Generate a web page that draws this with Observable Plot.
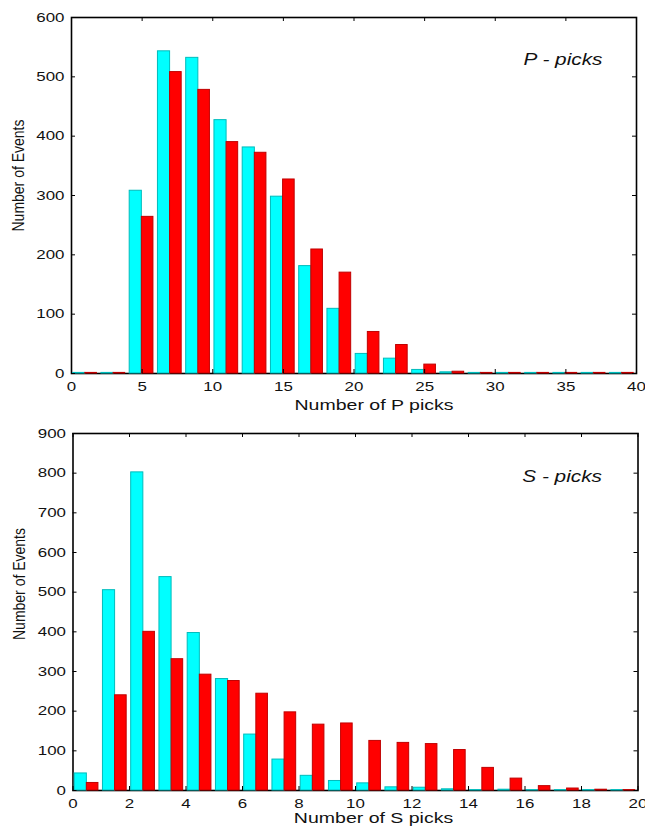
<!DOCTYPE html>
<html>
<head>
<meta charset="utf-8">
<script src="https://cdn.jsdelivr.net/npm/d3@7"></script>
<script src="https://cdn.jsdelivr.net/npm/@observablehq/plot@0.6"></script>
<style>
  html, body { margin: 0; padding: 0; background: #fff; }
  #chartTop, #chartBottom { width: 645px; display: block; }
  svg { display: block; }
</style>
</head>
<body>
<div id="chartTop"></div>
<div id="chartBottom"></div>
<script>
// ---- Data: P picks histogram (bins of width 2) ----
const pBinStart = [0,2,4,6,8,10,12,14,16,18,20,22,24,26,28,30,32,34,36,38];
const pBinWidth = 2;
const pCyan = [1,1,308,543,532,427,381,298,181,109,33,25,6,2,1,1,1,1,1,1];
const pRed  = [1,1,264,508,478,390,372,327,209,170,70,48,15,3,1,1,1,1,1,1];
const pXTicks = [0,5,10,15,20,25,30,35,40];
const pYTicks = [0,100,200,300,400,500,600];
const pXLabel = "Number of P picks";
const pTitle = "P - picks";

// ---- Data: S picks histogram (bins of width 1) ----
const sBinStart = [0,1,2,3,4,5,6,7,8,9,10,11,12,13,14,15,16,17,18,19];
const sBinWidth = 1;
const sCyan = [43,505,802,538,397,281,141,78,37,24,18,8,7,3,1,2,1,1,1,1];
const sRed  = [19,240,400,331,292,276,244,197,166,169,125,120,117,102,57,30,11,5,2,1];
const sXTicks = [0,2,4,6,8,10,12,14,16,18,20];
const sYTicks = [0,100,200,300,400,500,600,700,800,900];
const sXLabel = "Number of S picks";
const sTitle = "S - picks";

const yLabel = "Number of Events";

const FONT = "'Liberation Sans', Arial, sans-serif";
const CYAN = "#00ffff", CYAN_EDGE = "#00bcbc";
const RED = "#ff0000", RED_EDGE = "#c00000";

function histChart(opt) {
  const {starts, bw, cyan, red, xTicks, yTicks, xDomain, yDomain, xLabel, title,
         height, mt, mb, ml, mr, labelDx, labelDy, titleDx, titleDy, yLabelDy} = opt;
  const rows = starts.map((s, i) => ({start: s, cyan: cyan[i], red: red[i]}));
  const pw = 645 - ml - mr, ph = height - mt - mb;
  const tk = 4;
  return Plot.plot({
    width: 645, height,
    marginTop: mt, marginBottom: mb, marginLeft: ml, marginRight: mr,
    style: {fontFamily: FONT, fontSize: "13px", background: "white", color: "black"},
    x: {domain: xDomain, axis: null},
    y: {domain: yDomain, axis: null},
    marks: [
      Plot.frame({stroke: "black", strokeWidth: 1.6}),
      Plot.rectY(rows, {x1: d => d.start + bw * 0.06, x2: d => d.start + bw * 0.49, y1: 0, y2: "cyan",
                        fill: CYAN, stroke: CYAN_EDGE, strokeWidth: 1}),
      Plot.rectY(rows, {x1: d => d.start + bw * 0.49, x2: d => d.start + bw * 0.9, y1: 0, y2: "red",
                        fill: RED, stroke: RED_EDGE, strokeWidth: 1}),
      // inward tick marks on all four sides
      Plot.tickX(xTicks, {x: d => d, insetTop: ph - tk, stroke: "black"}),
      Plot.tickX(xTicks, {x: d => d, insetBottom: ph - tk, stroke: "black"}),
      Plot.tickY(yTicks, {y: d => d, insetRight: pw - tk, stroke: "black"}),
      Plot.tickY(yTicks, {y: d => d, insetLeft: pw - tk, stroke: "black"}),
      Plot.axisX(xTicks, {anchor: "bottom", tickSize: 0, tickPadding: 8, label: null, fontSize: 13, fill: "#111"}),
      Plot.axisY(yTicks, {anchor: "left", tickSize: 0, tickPadding: 7, label: null, fontSize: 13, fill: "#111"}),
      Plot.text([xLabel], {frameAnchor: "bottom", text: d => d, lineAnchor: "top", dx: labelDx, dy: labelDy, fontSize: 15, fill: "#111"}),
      Plot.text([yLabel], {frameAnchor: "left", text: d => d, rotate: -90, textAnchor: "middle", lineAnchor: "middle", dx: -53, dy: yLabelDy, fontSize: 14, fill: "#111"}),
      Plot.text([title], {frameAnchor: "top-right", text: d => d, textAnchor: "end", lineAnchor: "top", dx: titleDx, dy: titleDy, fontSize: 16, fontStyle: "italic", fill: "#111"})
    ]
  });
}

// the reference image is stretched horizontally; mimic that on the text
function stretchText(svg, k) {
  svg.querySelectorAll("text").forEach(t => {
    if (t.textContent === yLabel) {
      const tr = t.getAttribute("transform") || "";
      t.setAttribute("transform", tr.replace("rotate", "scale(1.15,1) rotate"));
      return;
    }
    const L = t.getComputedTextLength();
    if (L > 0) {
      t.setAttribute("textLength", (L * k).toFixed(2));
      t.setAttribute("lengthAdjust", "spacingAndGlyphs");
    }
  });
}

const chartP = histChart({
  starts: pBinStart, bw: pBinWidth, cyan: pCyan, red: pRed, xTicks: pXTicks, yTicks: pYTicks,
  xDomain: [0, 40], yDomain: [0, 600], xLabel: pXLabel, title: pTitle,
  height: 415, mt: 17, mb: 42, ml: 71, mr: 9, labelDx: 20, labelDy: 26, titleDx: -34, titleDy: 36, yLabelDy: -20
});
document.getElementById("chartTop").appendChild(chartP);
stretchText(chartP, 1.3);

const chartS = histChart({
  starts: sBinStart, bw: sBinWidth, cyan: sCyan, red: sRed, xTicks: sXTicks, yTicks: sYTicks,
  xDomain: [0, 20], yDomain: [0, 900], xLabel: sXLabel, title: sTitle,
  height: 412, mt: 18, mb: 37, ml: 72.5, mr: 7.5, labelDx: 18, labelDy: 22, titleDx: -36, titleDy: 37, yLabelDy: -28
});
document.getElementById("chartBottom").appendChild(chartS);
stretchText(chartS, 1.3);
</script>
</body>
</html>
